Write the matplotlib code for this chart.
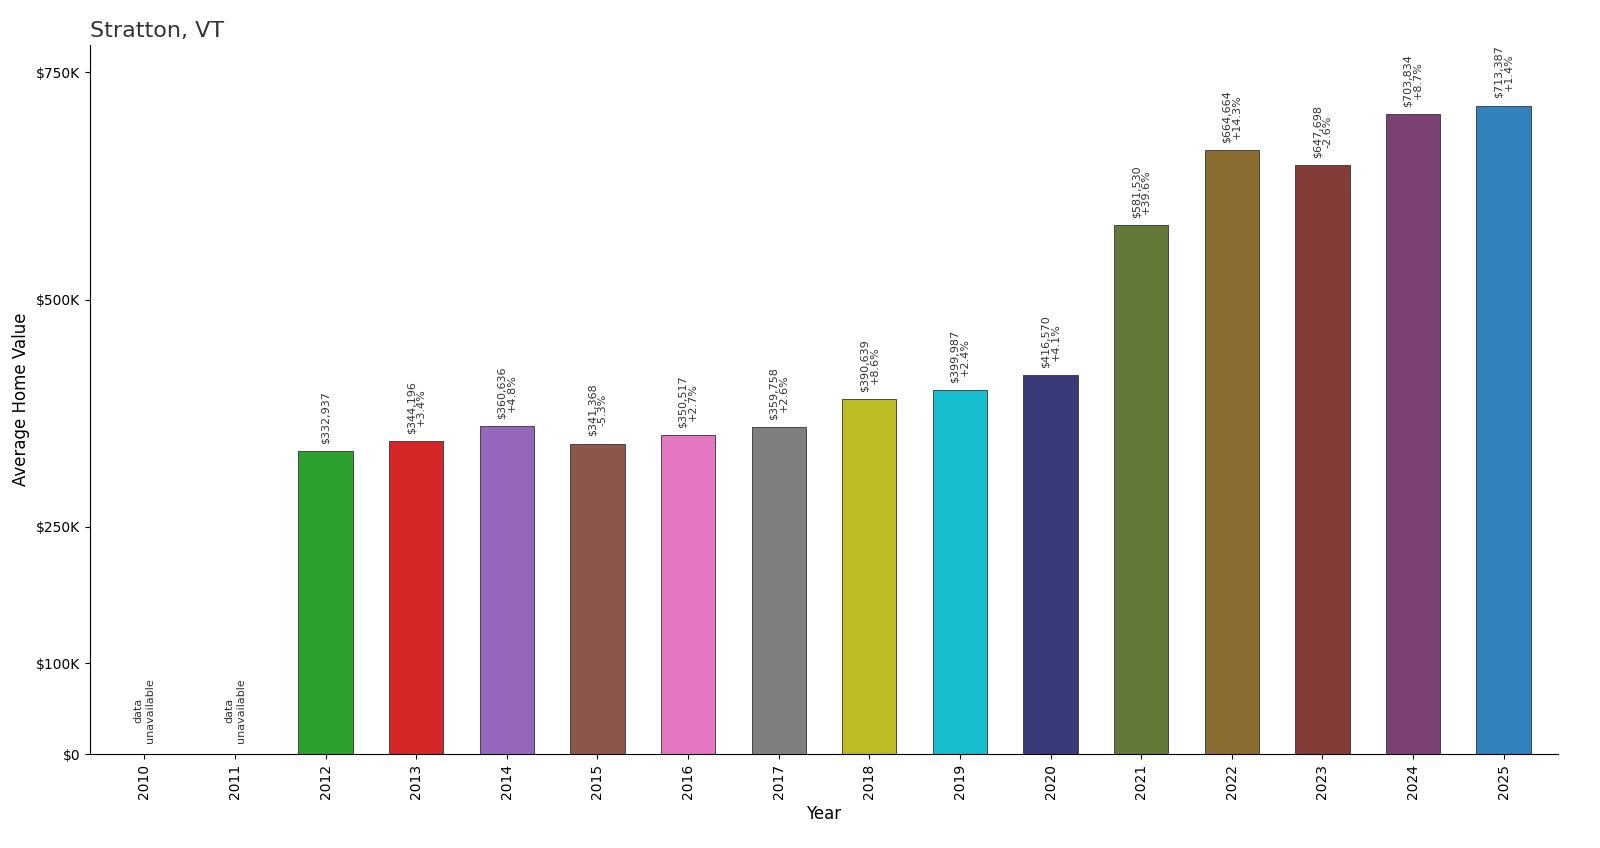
import matplotlib
matplotlib.use("Agg")
import matplotlib.pyplot as plt

years = list(range(2010, 2026))
values = [None, None, 332937, 344196, 360636, 341368, 350517, 359758, 390639, 399987,
          416570, 581530, 664664, 647698, 703834, 713387]
changes = [None, None, None, "+3.4%", "+4.8%", "-5.3%", "+2.7%", "+2.6%", "+8.6%", "+2.4%",
           "+4.1%", "+39.6%", "+14.3%", "-2.6%", "+8.7%", "+1.4%"]
colors = ["#1f77b4", "#ff7f0e", "#2ca02c", "#d62728", "#9467bd", "#8c564b", "#e377c2", "#7f7f7f",
          "#bcbd22", "#17becf", "#393b79", "#637939", "#8c6d31", "#843c39", "#7b4173", "#3182bd"]
yticks = [0, 100000, 250000, 500000, 750000]
ytick_labels = ["$0", "$100K", "$250K", "$500K", "$750K"]

fig = plt.figure(figsize=(16, 8.48), dpi=100)
ax = fig.add_axes([90/1600, 94/848, 1468/1600, 709/848])
for i, (y, v) in enumerate(zip(years, values)):
    if v is None:
        ax.text(i, 12000, "data\nunavailable", rotation=90, ha="center", va="bottom",
                fontsize=8, color="#333333")
        continue
    ax.bar(i, v, width=0.6, color=colors[i], edgecolor="#333333", linewidth=0.6)
    lab = f"${v:,}" + (f"\n{changes[i]}" if changes[i] else "")
    ax.text(i, v + 8000, lab, rotation=90, ha="center", va="bottom", fontsize=8,
            color="#333333", linespacing=1.0)

ax.set_xlim(-0.6, len(years) - 0.4)
ax.set_ylim(0, 780000)
ax.set_xticks(range(len(years)))
ax.set_xticklabels([str(y) for y in years], rotation=90, fontsize=10)
ax.set_yticks(yticks)
ax.set_yticklabels(ytick_labels, fontsize=10)
ax.spines["top"].set_visible(False)
ax.spines["right"].set_visible(False)
ax.set_xlabel("Year", fontsize=12)
ax.set_ylabel("Average Home Value", fontsize=12)
ax.set_title("Stratton, VT", loc="left", fontsize=16, color="#333333")
fig.savefig("out.png", dpi=100)
